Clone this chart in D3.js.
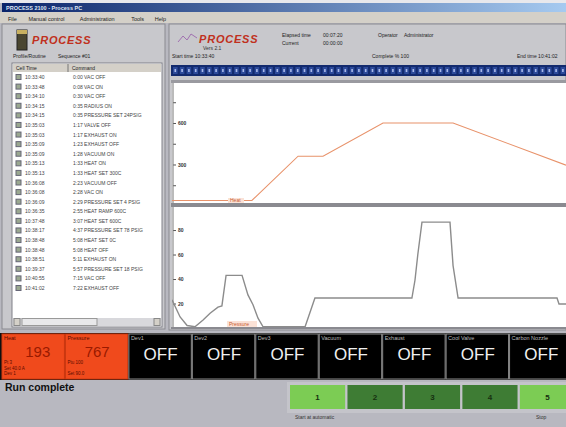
<!DOCTYPE html>
<html>
<head>
<meta charset="utf-8">
<script src="https://cdn.jsdelivr.net/npm/d3@7"></script>
<style>
  body { margin: 0; background: #b8b8c0; }
  svg { display: block; font-family: "Liberation Sans", Arial, sans-serif; }
</style>
</head>
<body>
<svg width="566" height="427"></svg>
<script>
const w = 566;
const h = 427;

// traces, time in minutes since start of run
const heatTime = [0, 36.5, 57.6, 69, 96.4, 128.4, 180];
const heatValue = [40, 40, 360, 360, 600, 600, 295];
const pressureTime = [0, 3.7, 6.9, 10.5, 14.2, 17.4, 21, 22.8, 24.7, 32, 34.7, 37, 39.3, 41.6, 60.8, 65.3, 109.6, 111, 112.3, 114.2, 127, 128.4, 130.7, 175.9, 176.8, 180];
const pressureValue = [23, 9, 2, 1, 6.5, 12, 17, 18, 43, 43, 27, 19, 8, 1, 1, 24.5, 24.5, 39, 60, 86.5, 86.5, 51, 24.5, 24.5, 19.6, 19.6];
const heatTicks = [150, 300, 450, 600, 750];
const heatTickLabels = ["", "300", "", "600", ""];
const pressureTicks = [20, 40, 60, 80];

const logTimes = ["10:33:40", "10:33:48", "10:34:10", "10:34:15", "10:34:15", "10:35:03", "10:35:03", "10:35:09", "10:35:09", "10:35:13", "10:35:13", "10:36:08", "10:36:08", "10:36:09", "10:36:35", "10:37:48", "10:38:17", "10:38:48", "10:38:48", "10:38:51", "10:39:37", "10:40:55", "10:41:02"];
const logCommands = ["0:00 VAC OFF", "0:08 VAC ON", "0:30 VAC OFF", "0:35 RADIUS ON", "0:35 PRESSURE SET 24PSIG", "1:17 VALVE OFF", "1:17 EXHAUST ON", "1:23 EXHAUST OFF", "1:28 VACUUM ON", "1:33 HEAT ON", "1:33 HEAT SET 300C", "2:23 VACUUM OFF", "2:28 VAC ON", "2:29 PRESSURE SET 4 PSIG", "2:55 HEAT RAMP 600C", "3:07 HEAT SET 600C", "4:37 PRESSURE SET 78 PSIG", "5:08 HEAT SET 0C", "5:08 HEAT OFF", "5:11 EXHAUST ON", "5:57 PRESSURE SET 18 PSIG", "7:15 VAC OFF", "7:22 EXHAUST OFF"];

const menuItems = ["File", "Manual control", "Administration", "Tools", "Help"];
const tileNames = ["Heat", "Pressure", "Dev1", "Dev2", "Dev3", "Vacuum", "Exhaust", "Cool Valve", "Carbon Nozzle"];
const tileValues = ["193", "767", "OFF", "OFF", "OFF", "OFF", "OFF", "OFF", "OFF"];
const tileNotes = [["Pt 3", "Set 40.0 A", "Dev 1"], ["Ptu 100", "", "Set 90.0"], [], [], [], [], [], [], []];
const steps = ["1", "2", "3", "4", "5"];
const stepDone = [true, false, false, false, true];

const svg = d3.select("svg");

// window background
svg.append("rect").attr("width", w).attr("height", h).attr("fill", "#b8b8c0");

// title bar + menu
const grad = svg.append("defs").append("linearGradient").attr("id", "tb");
grad.append("stop").attr("offset", "0").attr("stop-color", "#0a246a");
grad.append("stop").attr("offset", "1").attr("stop-color", "#a6caf0");
svg.append("rect").attr("x", 0).attr("y", 0).attr("width", w).attr("height", 3).attr("fill", "#e8e8ec");
svg.append("rect").attr("x", 2).attr("y", 3).attr("width", w - 2).attr("height", 9).attr("fill", "url(#tb)");
svg.append("text").attr("x", 6).attr("y", 10).attr("font-size", 5.5).attr("fill", "#dfe6f5")
  .attr("font-weight", "bold").text("PROCESS 2100 - Process PC");
svg.append("rect").attr("x", 0).attr("y", 12).attr("width", w).attr("height", 11).attr("fill", "#d4d0c8");

let mx = 8;
menuItems.forEach(m => {
  svg.append("text").attr("x", mx).attr("y", 20.5).attr("font-size", 5.5).attr("fill", "#222").text(m);
  mx += m.length * 3.1 + 8;
});

// left panel
svg.append("rect").attr("x", 2).attr("y", 24).attr("width", 163).attr("height", 305)
  .attr("fill", "#c8c8cc").attr("stroke", "#8a8a90");
svg.append("rect").attr("x", 17).attr("y", 30).attr("width", 10).attr("height", 20)
  .attr("fill", "#4a4630").attr("stroke", "#222");
svg.append("rect").attr("x", 17).attr("y", 30).attr("width", 10).attr("height", 4).attr("fill", "#c8b060");
svg.append("text").attr("x", 32).attr("y", 44).attr("font-size", 11).attr("font-weight", "bold")
  .attr("font-style", "italic").attr("letter-spacing", 0.8).attr("fill", "#c03020").text("PROCESS");
svg.append("text").attr("x", 13).attr("y", 58).attr("font-size", 5).attr("fill", "#222").text("Profile/Routine");
svg.append("text").attr("x", 58).attr("y", 58).attr("font-size", 5).attr("fill", "#222").text("Sequence #01");

// command log list
svg.append("rect").attr("x", 12).attr("y", 63).attr("width", 150).attr("height", 264)
  .attr("fill", "#fff").attr("stroke", "#808088");
svg.append("rect").attr("x", 13).attr("y", 64).attr("width", 148).attr("height", 8).attr("fill", "#d4d0c8");
svg.append("line").attr("x1", 68).attr("x2", 68).attr("y1", 64).attr("y2", 72).attr("stroke", "#777");
svg.append("text").attr("x", 16).attr("y", 70).attr("font-size", 5).attr("fill", "#222").text("Cell Time");
svg.append("text").attr("x", 72).attr("y", 70).attr("font-size", 5).attr("fill", "#222").text("Command");

const rowY = d3.scaleLinear().domain([0, logTimes.length - 1]).range([77, 288]);
const rows = svg.append("g").selectAll("g").data(logTimes).enter().append("g")
  .attr("transform", (d, i) => `translate(0, ${rowY(i)})`);
rows.append("rect").attr("x", 16).attr("y", -2.5).attr("width", 5).attr("height", 5)
  .attr("fill", "#9aa890").attr("stroke", "#667");
rows.append("text").attr("x", 25).attr("y", 2).attr("font-size", 5).attr("fill", "#444").text(d => d);
rows.append("text").attr("x", 73).attr("y", 2).attr("font-size", 5).attr("fill", "#444")
  .text((d, i) => logCommands[i]);

// scrollbar
svg.append("rect").attr("x", 13).attr("y", 318).attr("width", 148).attr("height", 8).attr("fill", "#d8d8dc");
svg.append("rect").attr("x", 22).attr("y", 318.5).attr("width", 75).attr("height", 7)
  .attr("fill", "#e8e8ea").attr("stroke", "#999");
svg.append("rect").attr("x", 14).attr("y", 318.5).attr("width", 6).attr("height", 7).attr("fill", "#d4d0c8").attr("stroke", "#888");
svg.append("rect").attr("x", 154).attr("y", 318.5).attr("width", 6).attr("height", 7).attr("fill", "#d4d0c8").attr("stroke", "#888");

// right panel header
svg.append("rect").attr("x", 169).attr("y", 24).attr("width", w - 169).attr("height", 306)
  .attr("fill", "#c8c8cc").attr("stroke", "#8a8a90");
svg.append("path").attr("d", "M178,42 L183,36 L187,40 L191,34 L197,38")
  .attr("fill", "none").attr("stroke", "#a070b0").attr("stroke-width", 1);
svg.append("text").attr("x", 199).attr("y", 43).attr("font-size", 11).attr("font-weight", "bold")
  .attr("font-style", "italic").attr("letter-spacing", 0.8).attr("fill", "#c03020").text("PROCESS");
svg.append("text").attr("x", 203).attr("y", 50).attr("font-size", 5).attr("fill", "#333").text("Vers 2.1");
const hdr = [["Elapsed time", 282, 37], ["00:07:20", 323, 37], ["Current", 282, 45], ["00:00:00", 323, 45],
  ["Operator", 378, 37], ["Administrator", 404, 37], ["Start time 10:33:40", 172, 58],
  ["Complete % 100", 372, 58], ["End time 10:41:02", 517, 58]];
hdr.forEach(t => {
  svg.append("text").attr("x", t[1]).attr("y", t[2]).attr("font-size", 5).attr("fill", "#222").text(t[0]);
});

// progress strip
svg.append("rect").attr("x", 171).attr("y", 65).attr("width", w - 171).attr("height", 11).attr("fill", "#122a6e");
d3.range(173, w, 6.8).forEach(x => {
  svg.append("rect").attr("x", x).attr("y", 67).attr("width", 4.6).attr("height", 7).attr("fill", "#2c4a9a");
  svg.append("rect").attr("x", x + 1.5).attr("y", 69).attr("width", 1.6).attr("height", 3).attr("fill", "#a8b8e8");
});

// charts
const x = d3.scaleLinear().domain([0, 180]).range([172, 566]);
const y1 = d3.scaleLinear().domain([0, 889]).range([206, 83]);
const y2 = d3.scaleLinear().domain([0, 98]).range([328, 208]);

svg.append("rect").attr("x", 171).attr("y", 80).attr("width", w - 171).attr("height", 3).attr("fill", "#9a9aa0");
svg.append("rect").attr("x", 172).attr("y", 83).attr("width", w - 172).attr("height", 120).attr("fill", "#fff");
svg.append("rect").attr("x", 171).attr("y", 203).attr("width", w - 171).attr("height", 4).attr("fill", "#8a8a90");
svg.append("rect").attr("x", 172).attr("y", 207).attr("width", w - 172).attr("height", 120).attr("fill", "#fff");
svg.append("rect").attr("x", 171).attr("y", 327).attr("width", w - 171).attr("height", 2).attr("fill", "#8a8a90");

const defs = svg.select("defs");
defs.append("clipPath").attr("id", "c1").append("rect").attr("x", 172).attr("y", 83).attr("width", w - 172).attr("height", 120);
defs.append("clipPath").attr("id", "c2").append("rect").attr("x", 172).attr("y", 207).attr("width", w - 172).attr("height", 120);

const axis1 = svg.append("g").attr("transform", "translate(173, 0)")
  .call(d3.axisRight(y1).tickValues(heatTicks).tickSize(3).tickFormat((d, i) => heatTickLabels[i]));
const axis2 = svg.append("g").attr("transform", "translate(173, 0)")
  .call(d3.axisRight(y2).tickValues(pressureTicks).tickSize(3));
[axis1, axis2].forEach(a => {
  a.select(".domain").remove();
  a.selectAll("line").attr("stroke", "#555");
  a.selectAll("text").attr("font-size", 5).attr("font-weight", "bold").attr("fill", "#333").attr("x", 5);
});
svg.append("line").attr("x1", 173).attr("x2", 173).attr("y1", 83).attr("y2", 203).attr("stroke", "#777");
svg.append("line").attr("x1", 173).attr("x2", 173).attr("y1", 207).attr("y2", 327).attr("stroke", "#777");

const heatLine = d3.line().x((d, i) => x(heatTime[i])).y(d => y1(d));
svg.append("path").datum(heatValue).attr("clip-path", "url(#c1)")
  .attr("d", heatLine).attr("fill", "none").attr("stroke", "#e8926a").attr("stroke-width", 1.1);

const pressLine = d3.line().x((d, i) => x(pressureTime[i])).y(d => y2(d));
svg.append("path").datum(pressureValue).attr("clip-path", "url(#c2)")
  .attr("d", pressLine).attr("fill", "none").attr("stroke", "#8c8c8c").attr("stroke-width", 1.4);

svg.append("rect").attr("x", 228).attr("y", 198).attr("width", 16).attr("height", 5).attr("fill", "#fbe2d6");
svg.append("text").attr("x", 230).attr("y", 202).attr("font-size", 5).attr("fill", "#c85a30").text("Heat");
svg.append("rect").attr("x", 227).attr("y", 321).attr("width", 30).attr("height", 6).attr("fill", "#fbe2d6");
svg.append("text").attr("x", 229).attr("y", 326).attr("font-size", 5).attr("fill", "#c85a30").text("Pressure");

// status tiles
svg.append("rect").attr("x", 0).attr("y", 333).attr("width", w).attr("height", 47).attr("fill", "#101010");
const tx = d3.scaleBand().domain(tileNames).range([2, 573]);
const tiles = svg.append("g").selectAll("g").data(tileNames).enter().append("g")
  .attr("transform", d => `translate(${tx(d)}, 334)`);
tiles.append("rect").attr("width", tx.bandwidth() - 1).attr("height", 45)
  .attr("fill", (d, i) => i < 2 ? "#f04a1c" : "#000")
  .attr("stroke", (d, i) => i < 2 ? "#d03a10" : "#8a8a8a");
tiles.append("text").attr("x", 2).attr("y", 6).attr("font-size", 5.5)
  .attr("fill", (d, i) => i < 2 ? "#5a0a00" : "#bbb").text(d => d);
tiles.append("text").attr("x", (d, i) => i === 0 ? tx.bandwidth() / 2 + 4 : tx.bandwidth() / 2)
  .attr("y", (d, i) => i < 2 ? 23 : 26).attr("text-anchor", "middle")
  .attr("font-size", (d, i) => i < 2 ? 15 : 17)
  .attr("fill", (d, i) => i < 2 ? "#9a1a00" : "#f0f0f0")
  .text((d, i) => tileValues[i]);
tiles.each(function(d, i) {
  const g = d3.select(this);
  tileNotes[i].forEach((n, j) => {
    g.append("text").attr("x", 2).attr("y", 30 + j * 5.5).attr("font-size", 4.5).attr("fill", "#5a0a00").text(n);
  });
});

// bottom status area
svg.append("text").attr("x", 5).attr("y", 391).attr("font-size", 10.5).attr("font-weight", "bold").attr("fill", "#111").text("Run complete");
svg.append("rect").attr("x", 287).attr("y", 382).attr("width", w - 287).attr("height", 31).attr("fill", "#c4c4ca");
const sx = d3.scaleBand().domain(steps).range([290, 575]).paddingInner(0.04);
const cells = svg.append("g").selectAll("g").data(steps).enter().append("g")
  .attr("transform", d => `translate(${sx(d)}, 385)`);
cells.append("rect").attr("width", sx.bandwidth()).attr("height", 24)
  .attr("fill", (d, i) => stepDone[i] ? "#7ccc54" : "#3e7c34");
cells.append("text").attr("x", sx.bandwidth() / 2).attr("y", 15).attr("text-anchor", "middle")
  .attr("font-size", 8).attr("font-weight", "bold").attr("fill", "#163010").text(d => d);
svg.append("text").attr("x", 295).attr("y", 419).attr("font-size", 5).attr("fill", "#333").text("Start at automatic");
svg.append("text").attr("x", 536).attr("y", 419).attr("font-size", 5).attr("fill", "#333").text("Stop");
</script>
</body>
</html>
